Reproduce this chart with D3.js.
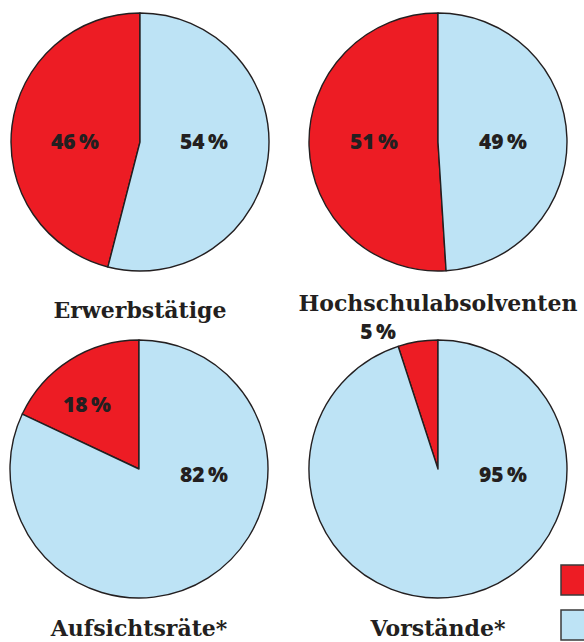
<!DOCTYPE html>
<html>
<head>
<meta charset="utf-8">
<script src="https://cdn.jsdelivr.net/npm/d3@7"></script>
<style>
  body { margin: 0; background: #fff; }
  svg { display: block; }
</style>
</head>
<body>
<svg id="main" width="584" height="642"></svg>
<script>
const width = 584;
const height = 642;

// data
const titles = ['Erwerbstätige', 'Hochschulabsolventen', 'Aufsichtsräte*', 'Vorstände*'];
const frauen = [46, 51, 18, 5];
const maenner = [54, 49, 82, 95];
const categories = ['Frauen', 'Männer'];

// layout of each pie (center, label offsets)
const layout = [
    { cx: 140, cy: 142, titleY: 318, labels: [[-65, 0], [64, 0]] },
    { cx: 438, cy: 142, titleY: 311, labels: [[-64, 0], [65, 0]] },
    { cx: 139, cy: 469, titleY: 636, labels: [[-52, -64], [65, 6]] },
    { cx: 438, cy: 469, titleY: 636, labels: [[-60, -137], [65, 6]] }
];
const radius = 129;

const colorScale = d3.scaleOrdinal()
    .domain(categories)
    .range(['#ed1c24', '#bde3f5']);

const svg = d3.select('#main');

const pie = d3.pie()
    .sort(null)
    .value(d => d.value);
const arc = d3.arc().innerRadius(0).outerRadius(radius);

titles.forEach((title, i) => {
    const pos = layout[i];
    const values = [
        { cat: 'Frauen', value: frauen[i] },
        { cat: 'Männer', value: maenner[i] }
    ];
    // Frauen gegen den Uhrzeigersinn ab 12 Uhr
    const fr = frauen[i] / (frauen[i] + maenner[i]) * 2 * Math.PI;
    const arcs = pie.startAngle(-fr).endAngle(2 * Math.PI - fr)(values);

    const g = svg.append('g')
        .attr('transform', `translate(${pos.cx}, ${pos.cy})`);

    g.selectAll('path')
        .data(arcs)
        .join('path')
        .attr('d', arc)
        .attr('fill', d => colorScale(d.data.cat))
        .attr('stroke', '#231f20')
        .attr('stroke-width', 1.4)
        .attr('stroke-linejoin', 'round');

    g.selectAll('text.pct')
        .data(arcs)
        .join('text')
        .attr('class', 'pct')
        .attr('x', (d, j) => pos.labels[j][0])
        .attr('y', (d, j) => pos.labels[j][1])
        .attr('dy', '0.35em')
        .attr('text-anchor', 'middle')
        .attr('font-family', '"Open Sans", "DejaVu Sans", sans-serif')
        .attr('font-weight', 800)
        .attr('font-size', 21)
        .attr('fill', '#231f20')
        .text(d => d.data.value + '\u2009%');

    svg.append('text')
        .attr('x', pos.cx)
        .attr('y', pos.titleY)
        .attr('text-anchor', 'middle')
        .attr('font-family', '"DejaVu Serif", serif')
        .attr('font-weight', 700)
        .attr('font-size', 22)
        .attr('fill', '#231f20')
        .text(title);
});

// legend (am Rand abgeschnitten)
svg.selectAll('rect.legend')
    .data(categories)
    .join('rect')
    .attr('class', 'legend')
    .attr('x', 561)
    .attr('y', (d, i) => 565 + i * 45)
    .attr('width', 32)
    .attr('height', 30)
    .attr('fill', d => colorScale(d))
    .attr('stroke', '#3a3a3a')
    .attr('stroke-width', 1.5);
</script>
</body>
</html>
